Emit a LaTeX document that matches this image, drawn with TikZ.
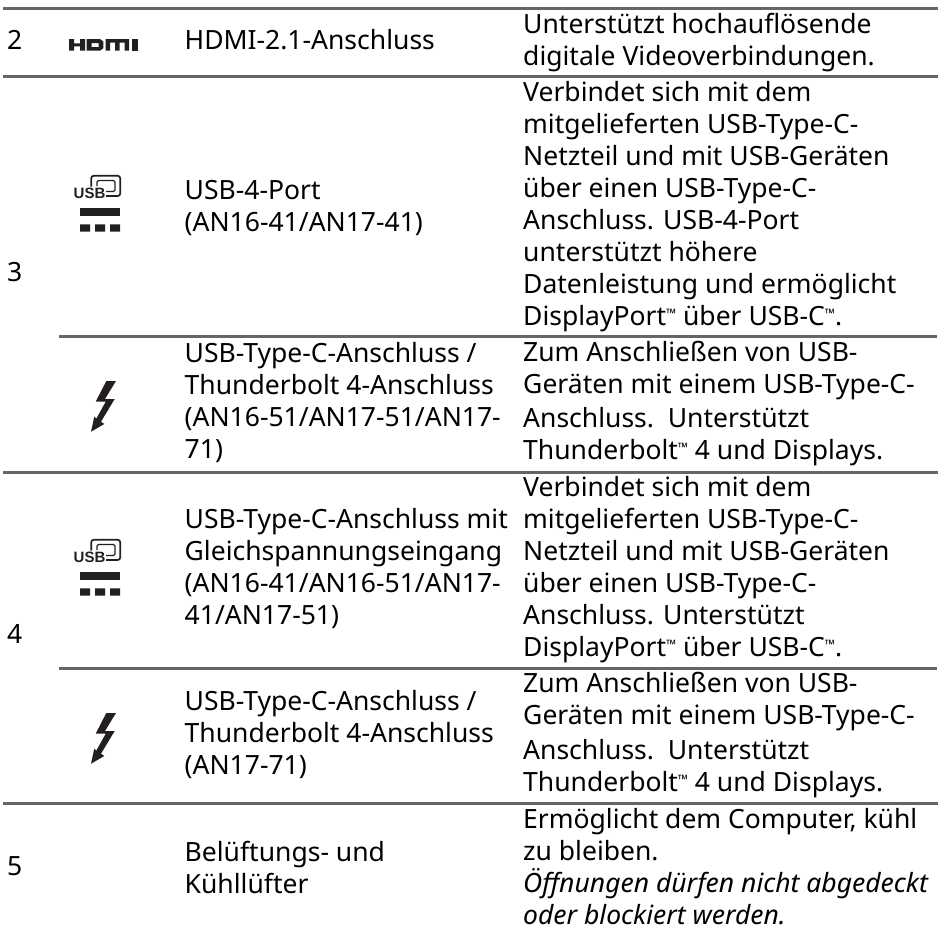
\documentclass[tikz,border=0pt]{standalone}
\usepackage{fontspec}
\setmainfont{Noto Sans}
\newfontfamily\usbfont{Liberation Sans}
\usepackage{tikz}
\definecolor{rulegray}{RGB}{102,102,102}
\definecolor{inkblack}{RGB}{35,31,32}
\newcommand{\tmark}{\raisebox{7pt}{\fontsize{13}{13}\selectfont ™}}
\tikzset{
  celltext/.style={anchor=north west,inner sep=0pt,align=left,
    font=\fontsize{26.5}{32}\selectfont},
  rowrule/.style={draw=rulegray,line width=3pt},
  pics/hdmiicon/.style={code={
    \fill[inkblack] (0,0) rectangle (5,11.7) (5,4.3) rectangle (11,7.4) (11,0) rectangle (16,11.7);
    \fill[inkblack,even odd rule] (17.7,0) -- (31,0) -- (34.3,2.5) -- (34.3,9.2) -- (31,11.7) -- (17.7,11.7) -- cycle
      (22.5,4) -- (22.5,8) -- (29.5,8) -- (29.5,4) -- cycle;
    \fill[inkblack] (36.7,0) -- (60,0) -- (60,11.7) -- (55.5,11.7) -- (55.5,3.5) -- (50.5,3.5) -- (50.5,11.7)
      -- (46.2,11.7) -- (46.2,3.5) -- (41.2,3.5) -- (41.2,11.7) -- (36.7,11.7) -- cycle;
    \fill[inkblack] (62.7,0) rectangle (68.5,11.7);
  }},
  pics/usbicon/.style={code={
    \draw[inkblack,line width=1.7pt,rounded corners=2.5pt] (18.2,11.5) -- (18.2,0.8) -- (47.2,0.8) -- (47.2,21) -- (33,21);
    \draw[inkblack,line width=1.2pt,rounded corners=1.5pt] (24,11) -- (24,5.5) -- (42,5.5) -- (42,16.5) -- (33,16.5);
    \node[inner sep=0pt,anchor=base west,font=\usbfont\bfseries\fontsize{15}{15}\selectfont,text=inkblack] at (0.5,23.3) {USB};
    \fill[inkblack] (7,33.3) rectangle (47,41);
    \fill[inkblack] (7,49.3) rectangle (17,56.7) (22,49.3) rectangle (32,56.7) (37,49.3) rectangle (47,56.7);
  }},
  pics/bolticon/.style={code={
    \fill[inkblack] (15.3,0) -- (25,0) -- (14,18) -- (23.7,18) -- (10,40.7) -- (13.3,43) -- (0,50.7)
      -- (3.3,35.7) -- (5.3,37.7) -- (14.7,20.7) -- (4.7,20.7) -- cycle;
  }}
}

\begin{document}
\begin{tikzpicture}[x=1pt,y=-1pt]
  \useasboundingbox (0,0) rectangle (941,929);

  % rules
  \draw[rowrule] (3,8.3) -- (937.7,8.3);
  \draw[rowrule] (3,76.3) -- (937.7,76.3);
  \draw[rowrule] (59,336.3) -- (936.7,336.3);
  \draw[rowrule] (3,472.3) -- (937.7,472.3);
  \draw[rowrule] (59,668.3) -- (936.7,668.3);
  \draw[rowrule] (3,803.3) -- (937.7,803.3);

  % number column
  \node[celltext] (numtwo) at (7,26.9) {\strut 2};
  \node[celltext] (numthree) at (7,259.3) {\strut 3};
  \node[celltext] (numfour) at (7,620.9) {\strut 4};
  \node[celltext] (numfive) at (7,852.6) {\strut 5};

  % icons
  \pic at (69,39) {hdmiicon};
  \pic at (73,175) {usbicon};
  \pic at (91,381) {bolticon};
  \pic at (73,539) {usbicon};
  \pic at (91,713) {bolticon};

  % port column
  \node[celltext] (porthdmi) at (184.5,26.9) {\strut HDMI-2.1-Anschluss};
  \node[celltext] (portusbfour) at (184.5,176.4) {\strut USB-4-Port\\(AN16-41/AN17-41)};
  \node[celltext] (porttbfirst) at (184.5,339.8) {\strut USB-Type-C-Anschluss /\\Thunderbolt 4-Anschluss\\(AN16-51/AN17-51/AN17-\\71)};
  \node[celltext] (portdc) at (184.5,505.8) {\strut USB-Type-C-Anschluss mit\\Gleichspannungseingang\\(AN16-41/AN16-51/AN17-\\41/AN17-51)};
  \node[celltext] (porttbsecond) at (184.5,687.8) {\strut USB-Type-C-Anschluss /\\Thunderbolt 4-Anschluss\\(AN17-71)};
  \node[celltext] (portfan) at (184.5,838.6) {\strut Belüftungs- und\\Kühllüfter};

  % description column
  \node[celltext] (deschdmi) at (523,10.4) {\strut Unterstützt hochauflösende\\digitale Videoverbindungen.};
  \node[celltext] (descusbfour) at (523,78.4) {\strut Verbindet sich mit dem\\mitgelieferten USB-Type-C-\\Netzteil und mit USB-Geräten\\über einen USB-Type-C-\\Anschluss. USB-4-Port\\unterstützt höhere\\Datenleistung und ermöglicht\\DisplayPort\tmark{} über USB-C\tmark.};
  \node[celltext] (desctbfirst) at (523,338.4) {\strut Zum Anschließen von USB-\\Geräten mit einem USB-Type-C-\\[2.7pt]Anschluss.~~Unterstützt\\Thunderbolt\tmark{} 4 und Displays.};
  \node[celltext] (descdc) at (523,473.8) {\strut Verbindet sich mit dem\\mitgelieferten USB-Type-C-\\Netzteil und mit USB-Geräten\\über einen USB-Type-C-\\Anschluss. Unterstützt\\DisplayPort\tmark{} über USB-C\tmark.};
  \node[celltext] (desctbsecond) at (523,669.8) {\strut Zum Anschließen von USB-\\Geräten mit einem USB-Type-C-\\[2.7pt]Anschluss.~~Unterstützt\\Thunderbolt\tmark{} 4 und Displays.};
  \node[celltext] (descfan) at (523,805.8) {\strut Ermöglicht dem Computer, kühl\\zu bleiben.\\\textit{Öffnungen dürfen nicht abgedeckt}\\\textit{oder blockiert werden.}};
\end{tikzpicture}
\end{document}
